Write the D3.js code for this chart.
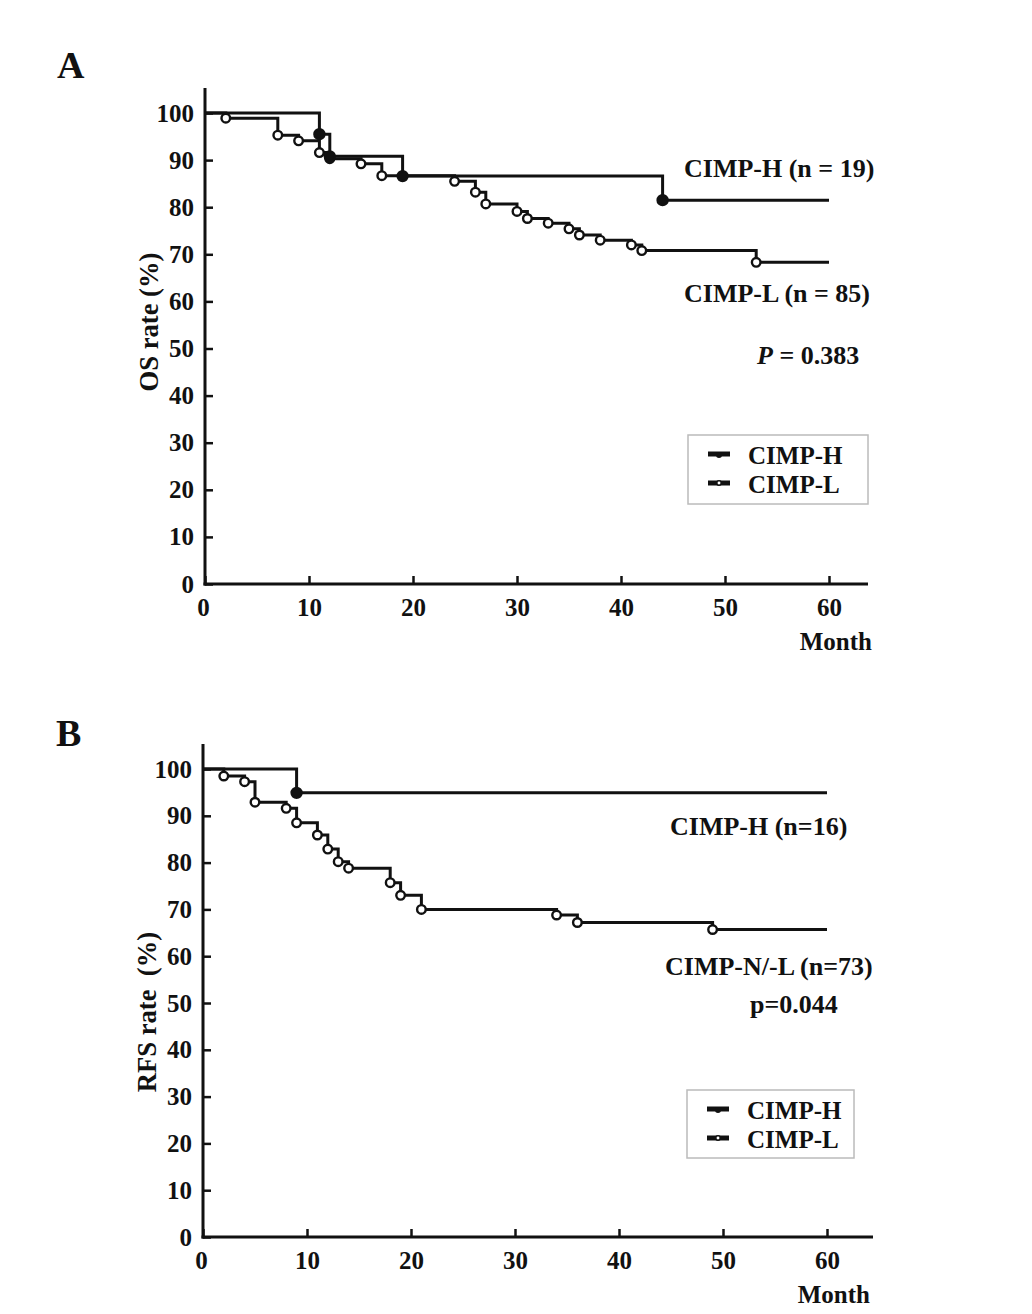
<!DOCTYPE html>
<html>
<head>
<meta charset="utf-8">
<script src="https://cdn.jsdelivr.net/npm/d3@7"></script>
<style>
  body { margin: 0; background: #fff; }
  svg text { font-family: "Liberation Serif", "Times New Roman", serif; font-weight: bold; fill: #111; }
</style>
</head>
<body>
<svg id="chart" width="1032" height="1314"></svg>
<script>
// ticks
const monthTicks = [0, 10, 20, 30, 40, 50, 60];
const rateTicks = [0, 10, 20, 30, 40, 50, 60, 70, 80, 90, 100];
const followUpEnd = 60;

// panel A: overall survival
const osHighMonths = [11, 12, 19, 44];
const osHighRate = [95.5, 90.8, 86.6, 81.5];
const osLowMonths = [2, 7, 9, 11, 12, 15, 17, 24, 26, 27, 30, 31, 33, 35, 36, 38, 41, 42, 53];
const osLowRate = [98.9, 95.3, 94.1, 91.6, 90.3, 89.2, 86.7, 85.5, 83.2, 80.7, 79.1, 77.6, 76.6, 75.4, 74.1, 73.0, 72.0, 70.8, 68.3];

// panel B: relapse-free survival
const rfsHighMonths = [9];
const rfsHighRate = [94.9];
const rfsLowMonths = [2, 4, 5, 8, 9, 11, 12, 13, 14, 18, 19, 21, 34, 36, 49];
const rfsLowRate = [98.5, 97.3, 92.9, 91.6, 88.5, 85.9, 82.9, 80.2, 78.8, 75.7, 73.0, 70.0, 68.8, 67.2, 65.7];

const svg = d3.select("#chart");

function steps(months, rate) {
  const pts = [[0, 100]];
  months.forEach((m, i) => pts.push([m, rate[i]]));
  pts.push([followUpEnd, rate[rate.length - 1]]);
  return pts;
}

function drawPanel(p) {
  const x = d3.scaleLinear().domain([0, 60]).range([p.left, p.left + 624]);
  const y = d3.scaleLinear().domain([0, 100]).range([p.bottom, p.top]);
  const g = svg.append("g");

  // y axis
  const yAxis = g.append("g")
    .attr("transform", `translate(${p.left},0)`)
    .call(d3.axisLeft(y).tickValues(rateTicks).tickSizeInner(-8).tickSizeOuter(0).tickPadding(11));
  yAxis.select(".domain").remove();
  yAxis.selectAll("line").attr("stroke", "#111").attr("stroke-width", 2.5);
  yAxis.selectAll("text").style("font-size", "25px").attr("fill", "#111")
    .style("font-family", "Liberation Serif").style("font-weight", "bold");

  // x axis
  const xAxis = g.append("g")
    .attr("transform", `translate(0,${p.bottom})`)
    .call(d3.axisBottom(x).tickValues(monthTicks).tickSizeInner(-8).tickSizeOuter(0).tickPadding(14));
  xAxis.select(".domain").remove();
  xAxis.selectAll("line").attr("stroke", "#111").attr("stroke-width", 2.5);
  xAxis.selectAll("text").style("font-size", "25px").attr("fill", "#111")
    .style("font-family", "Liberation Serif").style("font-weight", "bold");
  xAxis.selectAll(".tick").filter(d => d === 0).select("text").attr("dx", -2);

  // axis lines
  g.append("line").attr("x1", p.left).attr("x2", p.left)
    .attr("y1", p.top - 25).attr("y2", p.bottom + 1.5)
    .attr("stroke", "#111").attr("stroke-width", 3);
  g.append("line").attr("x1", p.left - 1.5).attr("x2", p.axisRight)
    .attr("y1", p.bottom).attr("y2", p.bottom)
    .attr("stroke", "#111").attr("stroke-width", 3);

  // labels
  g.append("text").attr("x", p.letterX).attr("y", p.letterY)
    .style("font-size", "38px").text(p.letter);
  g.append("text").attr("transform", `translate(${p.left - 47},${p.ylabelY}) rotate(-90)`)
    .attr("text-anchor", "middle").style("font-size", "26.6px").attr("xml:space", "preserve").text(p.ylabel);
  g.append("text").attr("x", p.monthX).attr("y", p.bottom + 66)
    .attr("text-anchor", "end").style("font-size", "25px").text("Month");

  // curves
  const line = d3.line().x(d => x(d[0])).y(d => y(d[1])).curve(d3.curveStepAfter);
  p.series.forEach(s => {
    g.append("path").datum(steps(s.months, s.rate))
      .attr("fill", "none").attr("stroke", "#111").attr("stroke-width", 3).attr("d", line);
    g.selectAll(null).data(s.months).enter().append("circle")
      .attr("cx", d => x(d)).attr("cy", (d, i) => y(s.rate[i]))
      .attr("r", s.filled ? 5 : 4.3)
      .attr("fill", s.filled ? "#111" : "#fff").attr("stroke", "#111").attr("stroke-width", 2.4);
  });

  // annotations
  p.notes.forEach(n => {
    const t = g.append("text").attr("x", n.x).attr("y", n.y).style("font-size", "26px")
      .attr("xml:space", "preserve");
    if (n.italic) {
      t.append("tspan").style("font-style", "italic").text(n.italic);
      t.append("tspan").text(n.text);
    } else t.text(n.text);
  });

  // legend
  const lg = p.legend;
  g.append("rect").attr("x", lg.x).attr("y", lg.y).attr("width", lg.w).attr("height", lg.h)
    .attr("fill", "#fff").attr("stroke", "#bbb").attr("stroke-width", 1.5);
  ["CIMP-H", "CIMP-L"].forEach((name, i) => {
    const cy = lg.y + 19 + i * 29;
    g.append("line").attr("x1", lg.x + 20).attr("x2", lg.x + 42).attr("y1", cy).attr("y2", cy)
      .attr("stroke", "#111").attr("stroke-width", 5);
    g.append("circle").attr("cx", lg.x + 31).attr("cy", cy + (i ? 0 : 1)).attr("r", i ? 2.2 : 3)
      .attr("fill", i ? "#fff" : "#111").attr("stroke", "#111").attr("stroke-width", i ? 1.5 : 0);
    g.append("text").attr("x", lg.x + 60).attr("y", cy + 10).style("font-size", "25px").text(name);
  });
}

drawPanel({
  letter: "A", letterX: 57, letterY: 78,
  ylabel: "OS rate (%)", ylabelY: 322,
  left: 205, top: 113, bottom: 584, axisRight: 868, monthX: 872,
  series: [
    { months: osLowMonths, rate: osLowRate, filled: false },
    { months: osHighMonths, rate: osHighRate, filled: true }
  ],
  notes: [
    { x: 684, y: 177, text: "CIMP-H (n = 19)" },
    { x: 684, y: 302, text: "CIMP-L (n = 85)" },
    { x: 757, y: 364, italic: "P", text: " = 0.383" }
  ],
  legend: { x: 688, y: 435, w: 180, h: 69 }
});

drawPanel({
  letter: "B", letterX: 56, letterY: 746,
  ylabel: "RFS rate  (%)", ylabelY: 1012,
  left: 203, top: 769, bottom: 1237, axisRight: 873, monthX: 870,
  series: [
    { months: rfsLowMonths, rate: rfsLowRate, filled: false },
    { months: rfsHighMonths, rate: rfsHighRate, filled: true }
  ],
  notes: [
    { x: 670, y: 835, text: "CIMP-H (n=16)" },
    { x: 665, y: 975, text: "CIMP-N/-L (n=73)" },
    { x: 750, y: 1013, text: "p=0.044" }
  ],
  legend: { x: 687, y: 1090, w: 167, h: 68 }
});
</script>
</body>
</html>
